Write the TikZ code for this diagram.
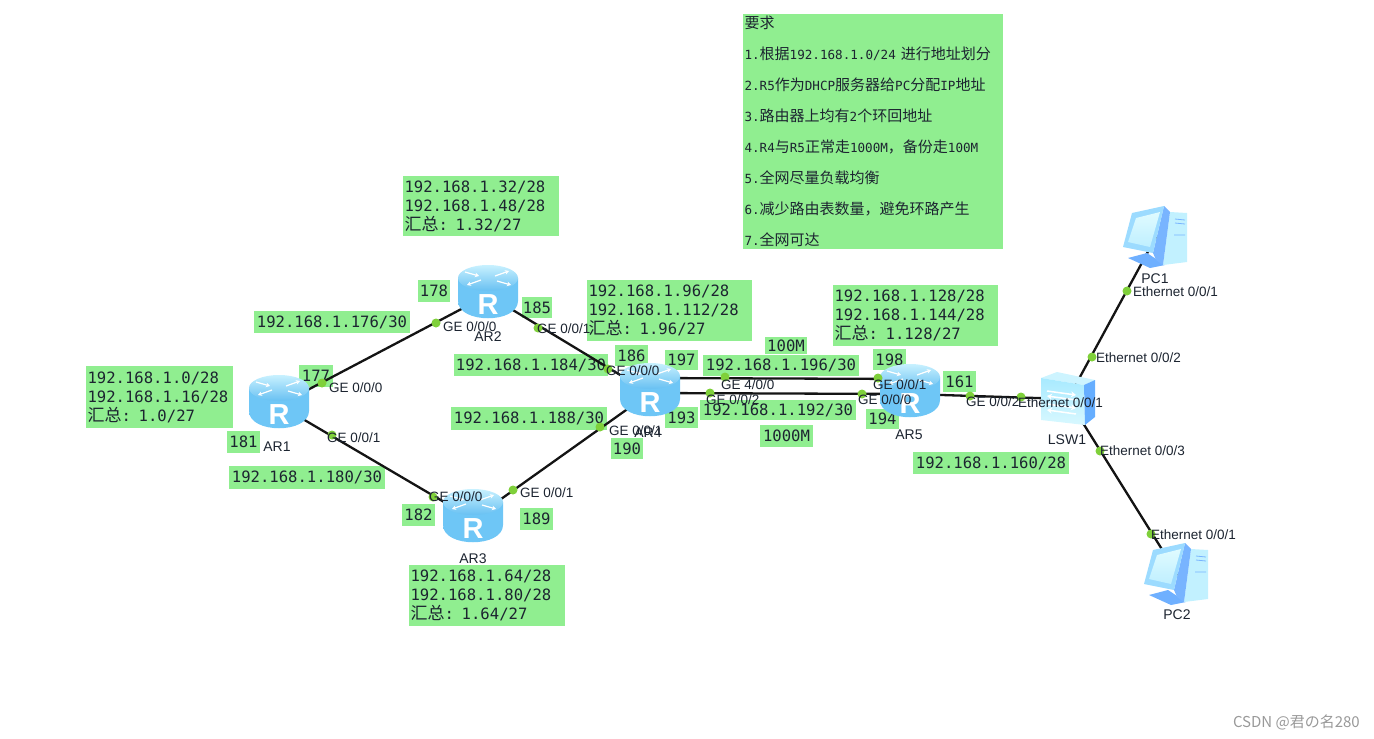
\documentclass[tikz,border=0pt]{standalone}
\usepackage{fontspec}
\setmainfont{Liberation Sans}
\setmonofont{DejaVu Sans Mono}
\newfontfamily\cjk{Noto Sans CJK SC}
\usetikzlibrary{arrows.meta}
\definecolor{lblgreen}{HTML}{90EE90}
\definecolor{dotgreen}{HTML}{7FD03A}
\definecolor{lnk}{HTML}{141414}
\definecolor{txt}{HTML}{1C2430}
\definecolor{rside}{HTML}{6EC6F6}
\definecolor{rmid}{HTML}{B4E8FF}
\definecolor{rtop}{HTML}{C8F1FF}
\definecolor{rtopb}{HTML}{68C0F2}
\definecolor{pcframe}{HTML}{9CDBFF}
\definecolor{pcscreenA}{HTML}{E0FBFF}
\definecolor{pcscreenB}{HTML}{BFEFFF}
\definecolor{pcpanel}{HTML}{78B4FF}
\definecolor{pctower}{HTML}{C2F1FF}
\definecolor{pcbase}{HTML}{6FB0FF}
\definecolor{swfrontA}{HTML}{A8EAFF}
\definecolor{swfrontB}{HTML}{D8F8FF}
\definecolor{swtop}{HTML}{CDF4FF}
\definecolor{swside}{HTML}{66AEFF}
\newcommand\mtxt{\fontsize{15.6}{19}\selectfont\ttfamily}
\newcommand\hz[1]{{\cjk\fontsize{17}{19}\selectfont #1}}
\newcommand\rs[1]{{\ttfamily\fontsize{12.6}{31}\selectfont #1}}
\newcommand\rc[1]{{\cjk\fontsize{15}{31}\selectfont #1}}
\tikzset{
  lbl/.style={fill=lblgreen,inner sep=0pt,text=txt,font=\mtxt},
  reqbox/.style={lbl,font=\fontsize{15}{31}\selectfont,align=left,text width=257pt,inner xsep=1.5pt,minimum height=235pt},
  dev/.style={shape=coordinate},
  link/.style={draw=lnk,line width=2.3pt},
  pdot/.style={circle,fill=dotgreen,inner sep=0pt,minimum size=9pt},
  port/.style={anchor=west,inner sep=0pt,font=\fontsize{13.5}{15}\selectfont,text=txt},
  devname/.style={inner sep=0pt,font=\fontsize{14}{16}\selectfont,text=txt},
  rarrow/.style={draw=white,line width=1.2pt,-{Stealth[length=4pt,width=4.5pt]}},
  swarrow/.style={draw=white,line width=1.5pt,-{Stealth[length=5pt,width=6pt]}}
}
% name x1 y1 x2 y2 text
\newcommand\lb[6]{\node[lbl,align=center,minimum width={(#4-#2)*1pt},minimum height={(#5-#3)*1pt}] (#1) at ({(#2+#4)/2},{(#3+#5)/2}) {#6};}
\newcommand\lbm[6]{\node[lbl,align=left,text width={(#4-#2-3)*1pt},inner xsep=1.5pt,minimum height={(#5-#3)*1pt}] (#1) at ({(#2+#4)/2},{(#3+#5)/2}) {#6};}
\newcommand\routergfx[3]{%
  \begin{scope}[shift={(#2,#3)}]
    \path[left color=rside,middle color=rmid,right color=rside]
      (-30,-17) -- (-30,6) .. controls (-30,29) and (30,29) .. (30,6) -- (30,-17) -- cycle;
    \path[top color=rtop,bottom color=rtopb] (0,-17) ellipse [x radius=30,y radius=13];
    \draw[rarrow] (-23,-23) -- (-9,-19);
    \draw[rarrow] (7,-19) -- (21,-24);
    \draw[rarrow] (-7,-15) -- (-21,-10);
    \draw[rarrow] (9,-14) -- (23,-10);
    \node[inner sep=0pt,text=white,font=\bfseries\fontsize{29}{29}\selectfont] (#1R) at (0,10) {R};
  \end{scope}}
\newcommand\pcgfx[3]{%
  \begin{scope}[shift={(#2,#3)}]
    \fill[pcbase] (-29,23) -- (-10,18) -- (8,30) -- (-7,33) -- cycle;
    \fill[pctower] (13,-23) -- (30,-22) -- (30,27) -- (6,30) -- cycle;
    \fill[pcpanel] (7,-29) -- (13,-23) -- (6,30) -- (-1,25) -- (-4,18) -- cycle;
    \fill[pcframe] (-25,-22) -- (7,-29) -- (-4,18) -- (-34,12) -- cycle;
    \path[top color=pcscreenA,bottom color=pcscreenB] (-21,-17) -- (3,-23) -- (-7,12) -- (-29,7) -- cycle;
    \draw[pcpanel,line width=.8pt] (18,-16) -- (28,-15) (18,-12) -- (28,-11) (17,0) -- (28,0);
  \end{scope}}
\begin{document}
\begin{tikzpicture}[x=1pt,y=-1pt]
\useasboundingbox (0,0) rectangle (1374,739);
% coordinates of the devices
\node[dev] (AR1) at (279,405) {};
\node[dev] (AR2) at (488,295) {};
\node[dev] (AR3) at (473,519) {};
\node[dev] (AR4) at (650,393) {};
\node[dev] (AR5) at (910,394) {};
\node[dev] (LSW1) at (1068,399) {};
\node[dev] (PC1) at (1157,235) {};
\node[dev] (PC2) at (1178,575) {};
% green labels
\node[reqbox] (req) at (873,131.5) {\rc{要求}\\
  \rs{1.}\rc{根据}\rs{192.168.1.0/24 }\rc{进行地址划分}\\
  \rs{2.R5}\rc{作为}\rs{DHCP}\rc{服务器给}\rs{PC}\rc{分配}\rs{IP}\rc{地址}\\
  \rs{3.}\rc{路由器上均有}\rs{2}\rc{个环回地址}\\
  \rs{4.R4}\rc{与}\rs{R5}\rc{正常走}\rs{1000M}\rc{，备份走}\rs{100M}\\
  \rs{5.}\rc{全网尽量负载均衡}\\
  \rs{6.}\rc{减少路由表数量，避免环路产生}\\
  \rs{7.}\rc{全网可达}};
\lbm{sa}{86}{366}{233}{428}{192.168.1.0/28\\192.168.1.16/28\\\hz{汇总}: 1.0/27}
\lbm{sb}{403}{176}{559}{236}{192.168.1.32/28\\192.168.1.48/28\\\hz{汇总}: 1.32/27}
\lbm{sc}{587}{280}{752}{341}{192.168.1.96/28\\192.168.1.112/28\\\hz{汇总}: 1.96/27}
\lbm{sd}{833}{285}{998}{346}{192.168.1.128/28\\192.168.1.144/28\\\hz{汇总}: 1.128/27}
\lbm{se}{409}{565}{565}{626}{192.168.1.64/28\\192.168.1.80/28\\\hz{汇总}: 1.64/27}
\lb{n176}{254}{311}{410}{333}{192.168.1.176/30}
\lb{n178}{418}{280}{450}{302}{178}
\lb{n185}{522}{297}{552}{318}{185}
\lb{n184}{454}{354}{608}{376}{192.168.1.184/30}
\lb{n186}{615}{345}{648}{366}{186}
\lb{n197}{665}{350}{698}{370}{197}
\lb{n100}{765}{337}{807}{354}{100M}
\lb{n196}{703}{355}{859}{376}{192.168.1.196/30}
\lb{n198}{873}{349}{906}{370}{198}
\lb{n161}{943}{371}{976}{392}{161}
\lb{n192}{700}{400}{856}{420}{192.168.1.192/30}
\lb{n193}{665}{407}{698}{428}{193}
\lb{n194}{866}{409}{899}{429}{194}
\lb{n1000}{760}{425}{813}{447}{1000M}
\lb{n188}{451}{407}{607}{430}{192.168.1.188/30}
\lb{n190}{611}{438}{643}{459}{190}
\lb{n177}{299}{365}{333}{387}{177}
\lb{n181}{227}{431}{260}{453}{181}
\lb{n180}{229}{466}{385}{489}{192.168.1.180/30}
\lb{n182}{402}{504}{435}{526}{182}
\lb{n189}{520}{508}{553}{530}{189}
\lb{n160}{913}{452}{1069}{474}{192.168.1.160/28}
% links
\draw[link] (AR1) -- (AR2);
\draw[link] (AR1) -- (AR3);
\draw[link] (AR2) -- (AR4);
\draw[link] (AR3) -- (AR4);
\draw[link] ([yshift=15pt]AR4.center) -- ([yshift=15pt]AR5.center);
\draw[link] (AR4) -- (AR5);
\draw[link] (AR5) -- (LSW1);
\draw[link] (LSW1) -- (PC1);
\draw[link] (LSW1) -- (PC2);
% devices
\routergfx{AR1}{279}{405}
\routergfx{AR2}{488}{295}
\routergfx{AR3}{473}{519}
\routergfx{AR4}{650}{393}
\routergfx{AR5}{910}{394}
\begin{scope}[shift={(1068,399)}]
  \fill[swtop] (-27,-21) -- (-11,-27) -- (27,-19) -- (16,-14) -- cycle;
  \path[top color=swfrontA,bottom color=swfrontB] (-27,-21) -- (16,-14) -- (17,26) -- (-27,21) -- cycle;
  \fill[swside] (16,-14) -- (27,-19) -- (27,18) -- (17,26) -- cycle;
  \draw[swarrow] (-21,-8) -- (8,-4);
  \draw[swarrow] (8,1) -- (-21,-3);
  \draw[swarrow] (-21,5) -- (8,9);
  \draw[swarrow] (8,15) -- (-21,11);
\end{scope}
\pcgfx{PC1}{1157}{235}
\pcgfx{PC2}{1178}{572}
% connection points
\node[pdot] (d1) at (322,383) {};
\node[pdot] (d2) at (436,323) {};
\node[pdot] (d3) at (332,435) {};
\node[pdot] (d4) at (433,497) {};
\node[pdot] (d5) at (538,328) {};
\node[pdot] (d6) at (608,369) {};
\node[pdot] (d7) at (513,490) {};
\node[pdot] (d8) at (600,427) {};
\node[pdot] (d9) at (725,377) {};
\node[pdot] (d10) at (878,378) {};
\node[pdot] (d11) at (710,393) {};
\node[pdot] (d12) at (862,394) {};
\node[pdot] (d13) at (970,396) {};
\node[pdot] (d14) at (1021,397) {};
\node[pdot] (d15) at (1092,357) {};
\node[pdot] (d16) at (1127,291) {};
\node[pdot] (d17) at (1100,451) {};
\node[pdot] (d18) at (1151,534) {};
% port labels
\node[port] (p1) at (329,388) {GE 0/0/0};
\node[port] (p2) at (327,438) {GE 0/0/1};
\node[port] (p3) at (443,327) {GE 0/0/0};
\node[port] (p4) at (537,329) {GE 0/0/1};
\node[port] (p5) at (429,497) {GE 0/0/0};
\node[port] (p6) at (520,493) {GE 0/0/1};
\node[port] (p7) at (606,371) {GE 0/0/0};
\node[port] (p8) at (609,431) {GE 0/0/1};
\node[port] (p9) at (721,385) {GE 4/0/0};
\node[port] (p10) at (706,400) {GE 0/0/2};
\node[port] (p11) at (873,385) {GE 0/0/1};
\node[port] (p12) at (858,400) {GE 0/0/0};
\node[port] (p13) at (966,402) {GE 0/0/2};
\node[port] (p14) at (1018,403) {Ethernet 0/0/1};
\node[port] (p15) at (1096,358) {Ethernet 0/0/2};
\node[port] (p16) at (1100,451) {Ethernet 0/0/3};
\node[port] (p17) at (1133,292) {Ethernet 0/0/1};
\node[port] (p18) at (1151,535) {Ethernet 0/0/1};
% device names
\node[devname] (tAR1) at (277,447) {AR1};
\node[devname] (tAR2) at (488,337) {AR2};
\node[devname] (tAR3) at (473,559) {AR3};
\node[devname] (tAR4) at (648,433) {AR4};
\node[devname] (tAR5) at (909,435) {AR5};
\node[devname] (tLSW) at (1067,440) {LSW1};
\node[devname] (tPC1) at (1155,279) {PC1};
\node[devname] (tPC2) at (1177,615) {PC2};
\node[inner sep=0pt,anchor=east,text=black!40,font=\cjk\fontsize{15}{17}\selectfont] (wm) at (1360,722) {CSDN @君の名280};
\end{tikzpicture}
\end{document}
